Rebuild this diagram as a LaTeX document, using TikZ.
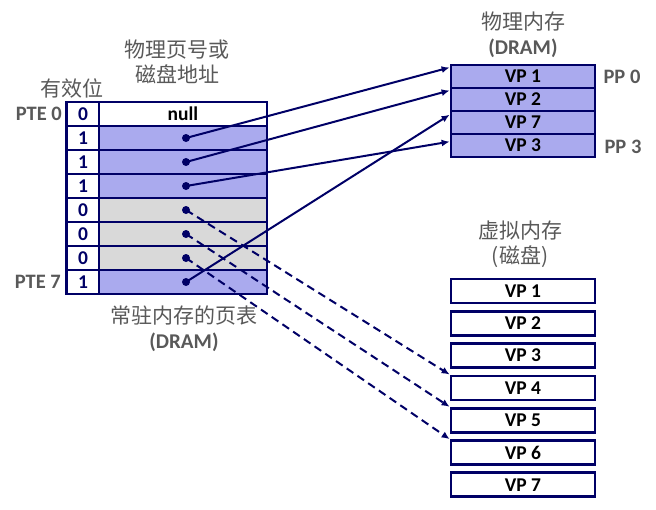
\documentclass[tikz,border=0pt]{standalone}
\usepackage{fontspec}
\setmainfont{Carlito}
\newfontfamily\cjk{Noto Sans CJK SC}
\usetikzlibrary{arrows.meta}
\definecolor{vmNavy}{HTML}{000066}
\definecolor{vmBlue}{HTML}{AAAAEE}
\definecolor{vmGrey}{HTML}{D9D9D9}
\definecolor{vmText}{HTML}{595959}

\begin{document}
\begin{tikzpicture}[x=1pt, y=-1pt, node distance=24pt,
        validbit/.style={draw=vmNavy, line width=2.8pt, fill=white, minimum width=33pt, minimum height=24pt, inner sep=0pt, text=vmNavy, font=\fontsize{19.5}{20}\selectfont\bfseries},
        pte/.style={draw=vmNavy, line width=2.8pt, minimum width=168pt, minimum height=24pt, inner sep=0pt, font=\fontsize{19.5}{20}\selectfont\bfseries},
        frame/.style={draw=vmNavy, line width=2.8pt, fill=vmBlue, minimum width=144pt, minimum height=23pt, inner sep=0pt, font=\fontsize{19.5}{20}\selectfont\bfseries},
        disk/.style={frame, fill=white, minimum height=24pt},
        vpdot/.style={circle, fill=vmNavy, inner sep=0pt, minimum size=8pt},
        ptlabel/.style={text=vmText, inner sep=0pt, font=\fontsize{20.5}{22}\selectfont\bfseries},
        heading/.style={text=vmText, align=center, inner sep=0pt, font=\cjk\fontsize{21}{25}\selectfont},
        map/.style={vmNavy, line width=2pt, -{Latex[length=8pt,width=7pt]}},
        ondisk/.style={map, dash pattern=on 8pt off 5pt}]
    \useasboundingbox (0,0) rectangle (656,509);

    % page table
    \node[validbit] (b0) at (83,114) {0};
    \node[validbit] (b1) [below of = b0] {1};
    \node[validbit] (b2) [below of = b1] {1};
    \node[validbit] (b3) [below of = b2] {1};
    \node[validbit] (b4) [below of = b3] {0};
    \node[validbit] (b5) [below of = b4] {0};
    \node[validbit] (b6) [below of = b5] {0};
    \node[validbit] (b7) [below of = b6] {1};

    \node[pte, fill=white] (a0) at (183,114) {null};
    \node[pte, fill=vmBlue] (a1) [below of = a0] {};
    \node[pte, fill=vmBlue] (a2) [below of = a1] {};
    \node[pte, fill=vmBlue] (a3) [below of = a2] {};
    \node[pte, fill=vmGrey] (a4) [below of = a3] {};
    \node[pte, fill=vmGrey] (a5) [below of = a4] {};
    \node[pte, fill=vmGrey] (a6) [below of = a5] {};
    \node[pte, fill=vmBlue] (a7) [below of = a6] {};

    \node[vpdot] (d1) at ([xshift=3pt]a1.center) {};
    \node[vpdot] (d2) at ([xshift=3pt]a2.center) {};
    \node[vpdot] (d3) at ([xshift=3pt]a3.center) {};
    \node[vpdot] (d4) at ([xshift=3pt]a4.center) {};
    \node[vpdot] (d5) at ([xshift=3pt]a5.center) {};
    \node[vpdot] (d6) at ([xshift=3pt]a6.center) {};
    \node[vpdot] (d7) at ([xshift=3pt]a7.center) {};

    \node[ptlabel, anchor=east] (pte0) at (62,114) {PTE 0};
    \node[ptlabel, anchor=east] (pte7) at (61,282) {PTE 7};

    \node[heading] (addrhead) at (177,62) {物理页号或\\磁盘地址};
    \node[heading] (bithead) at (72,88) {有效位};
    \node[heading] (pthead) at (184,329) {常驻内存的页表\\{\rmfamily\bfseries (DRAM)}};

    % physical memory
    \node[frame] (p0) at (523,76.5) {VP 1};
    \node[frame] (p1) [below of = p0, node distance=23pt] {VP 2};
    \node[frame] (p2) [below of = p1, node distance=23pt] {VP 7};
    \node[frame] (p3) [below of = p2, node distance=23pt] {VP 3};
    \node[ptlabel] (pp0) at (622,77) {PP 0};
    \node[ptlabel] (pp3) at (623,147) {PP 3};
    \node[heading] (physhead) at (523,34.5) {物理内存\\{\rmfamily\bfseries (DRAM)}};

    % virtual memory
    \node[disk] (v1) at (523,291) {VP 1};
    \node[disk] (v2) [below of = v1, node distance=32.3pt] {VP 2};
    \node[disk] (v3) [below of = v2, node distance=32.3pt] {VP 3};
    \node[disk] (v4) [below of = v3, node distance=32.3pt] {VP 4};
    \node[disk] (v5) [below of = v4, node distance=32.3pt] {VP 5};
    \node[disk] (v6) [below of = v5, node distance=32.3pt] {VP 6};
    \node[disk] (v7) [below of = v6, node distance=32.3pt] {VP 7};
    \node[heading] (virthead) at (520,244.5) {虚拟内存\\(磁盘)};

    \draw[map] (d1.center) -- (p0.173);
    \draw[map] (d2.center) -- (p1.173);
    \draw[map] (d3.center) -- (p3.177);
    \draw[map] (d7.center) -- (p2.174);
    \draw[ondisk] (d4.center) -- (v4.north west);
    \draw[ondisk] (d5.center) -- (v5.north west);
    \draw[ondisk] (d6.center) -- (v6.north west);
\end{tikzpicture}
\end{document}
